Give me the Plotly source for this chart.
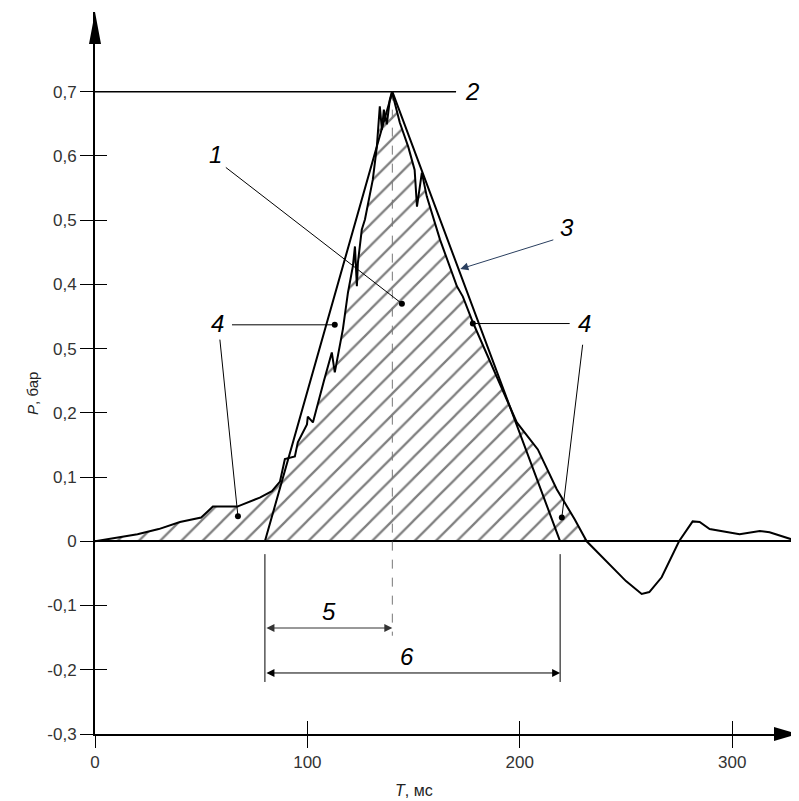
import plotly.graph_objects as go

t_ms = [0, 20, 30, 40, 50, 55.5, 67, 77.6, 83.3, 87.1, 89.4, 94.1, 95.5, 99.8, 100.2,
        102.6, 107.8, 111.5, 112.9, 116.7, 119.1, 121.4, 122.4, 123.3, 123.8, 125.6,
        127.1, 130.8, 132.7, 133.6, 134.1, 135.1, 136.0, 137.4, 138.8, 139.8, 141.0,
        143.5, 147.5, 150.5, 151.6, 153.9, 156.2, 162.4, 170.4, 173.2, 177.9, 190.6,
        198.6, 208.5, 217.4, 225.9, 231.5, 250, 257.4, 261, 266.8, 275, 281.4, 284.7,
        289.4, 303.5, 313, 317.6, 331]
p_bar = [0, 0.011, 0.019, 0.030, 0.037, 0.054, 0.054, 0.068, 0.078, 0.093, 0.128,
         0.132, 0.154, 0.182, 0.194, 0.185, 0.250, 0.294, 0.263, 0.330, 0.387, 0.428,
         0.459, 0.397, 0.434, 0.485, 0.501, 0.563, 0.614, 0.652, 0.677, 0.641, 0.672,
         0.649, 0.687, 0.700, 0.685, 0.652, 0.614, 0.578, 0.521, 0.574, 0.537, 0.470,
         0.397, 0.381, 0.341, 0.247, 0.185, 0.143, 0.081, 0.034, 0.0, -0.062, -0.082,
         -0.079, -0.056, 0.0, 0.031, 0.030, 0.019, 0.011, 0.016, 0.014, 0.0]

# idealised triangle
tri_t = [80, 140, 219]
tri_p = [0, 0.7, 0]

x_ticks = [0, 100, 200, 300]
y_ticks = [-0.3, -0.2, -0.1, 0, 0.1, 0.2, 0.3, 0.4, 0.5, 0.6, 0.7]
y_labels = ["-0,3", "-0,2", "-0,1", "0", "0,1", "0,2", "0,5", "0,4", "0,5", "0,6", "0,7"]

# callout leaders (label end -> dot end)
leaders = [
    ([61.6, 144.5], [0.582, 0.370]),
    ([64.5, 112.9], [0.337, 0.337]),
    ([58.8, 67.3], [0.314, 0.039]),
    ([223.5, 177.9], [0.339, 0.339]),
    ([229.6, 219.8], [0.306, 0.037]),
]
labels = [("1", 56.5, 0.602), ("2", 177.4, 0.70), ("3", 222.1, 0.488), ("4", 57.9, 0.339),
          ("4", 230.6, 0.339), ("5", 110, -0.109), ("6", 147, -0.179)]

fnt = "Liberation Sans, Arial, sans-serif"
fig = go.Figure()

# hatched positive area
pos_t = [t for t in t_ms if t <= 231.5]
pos_p = p_bar[:len(pos_t)]
fig.add_trace(go.Scatter(x=pos_t, y=pos_p, mode="lines", line=dict(width=0),
                         fill="tozeroy", fillcolor="rgba(0,0,0,0)",
                         fillpattern=dict(shape="/", size=15, solidity=0.15,
                                          fgcolor="#000", bgcolor="rgba(0,0,0,0)")))

# reference line at 0.7 (2)
fig.add_trace(go.Scatter(x=[0, 170], y=[0.7, 0.7], mode="lines",
                         line=dict(color="black", width=1.5)))
# dashed peak time line
fig.add_trace(go.Scatter(x=[140, 140], y=[0.7, -0.147], mode="lines",
                         line=dict(color="#777", width=1, dash="dash")))
# dimension verticals
for tx in [tri_t[0], tri_t[2]]:
    fig.add_trace(go.Scatter(x=[tx, tx], y=[-0.02, -0.219], mode="lines",
                             line=dict(color="black", width=1)))

fig.add_trace(go.Scatter(x=tri_t, y=tri_p, mode="lines", line=dict(color="black", width=2)))
fig.add_trace(go.Scatter(x=t_ms, y=p_bar, mode="lines", line=dict(color="black", width=2)))

for lx, ly in leaders:
    fig.add_trace(go.Scatter(x=lx, y=ly, mode="lines", line=dict(color="black", width=1)))
fig.add_trace(go.Scatter(x=[l[0][1] for l in leaders], y=[l[1][1] for l in leaders],
                         mode="markers", marker=dict(color="black", size=6)))

# dummy trace for the second (inner tick) axes
fig.add_trace(go.Scatter(x=[0], y=[0], xaxis="x2", yaxis="y2", mode="markers",
                         marker=dict(opacity=0), hoverinfo="skip"))

for txt, x, y in labels:
    fig.add_annotation(x=x, y=y, text="<i>%s</i>" % txt, showarrow=False,
                       font=dict(family=fnt, size=24, color="black"))

# arrow of label 3
fig.add_annotation(x=172, y=0.424, ax=216.5, ay=0.47, axref="x", ayref="y", text="",
                   showarrow=True, arrowhead=2, arrowsize=1.6, arrowwidth=1)
# dimension 5 and 6
fig.add_annotation(x=140, y=-0.135, ax=80, ay=-0.135, axref="x", ayref="y", text="",
                   showarrow=True, arrowhead=2, startarrowhead=2, arrowside="end+start",
                   arrowsize=1.6, startarrowsize=1.6, arrowwidth=1, arrowcolor="#333")
fig.add_annotation(x=219, y=-0.205, ax=80, ay=-0.205, axref="x", ayref="y", text="",
                   showarrow=True, arrowhead=2, startarrowhead=2, arrowside="end+start",
                   arrowsize=1.6, startarrowsize=1.6, arrowwidth=1, arrowcolor="black")

# axis titles
fig.add_annotation(xref="paper", x=-0.104, y=0.23, text="<i>P</i>, бар", textangle=-90,
                   showarrow=False, font=dict(family=fnt, size=15, color="#222"))
fig.add_annotation(x=150, yref="paper", y=-0.093, text="<i>T</i>, мс",
                   showarrow=False, font=dict(family=fnt, size=16, color="#222"))

# axis arrow heads
fig.add_shape(type="path", xref="paper", yref="paper", xsizemode="pixel", ysizemode="pixel",
              xanchor=0, yanchor=1, path="M0,0 L-6,-32 L6,-32 Z",
              fillcolor="black", line=dict(width=0))
fig.add_shape(type="path", xref="paper", yref="paper", xsizemode="pixel", ysizemode="pixel",
              xanchor=1, yanchor=0, path="M0,0 L-24,7 L-24,-7 Z",
              fillcolor="black", line=dict(width=0))

# page body keeps an 8px margin, so the figure is 8px smaller
fig.update_layout(
    width=791, height=793, showlegend=False,
    paper_bgcolor="white", plot_bgcolor="white",
    margin=dict(l=87, r=1, t=4, b=67),
    font=dict(family=fnt, size=17, color="#333"),
    xaxis=dict(range=[0, 331], tickvals=x_ticks, ticks="outside", ticklen=12, tickwidth=1.2,
               tickcolor="black", showline=True, linewidth=2, linecolor="black",
               showgrid=False, zeroline=False),
    yaxis=dict(range=[-0.3, 0.824], tickvals=y_ticks, ticktext=y_labels, ticks="outside",
               ticklen=13, tickwidth=1.2, tickcolor="black", showline=True, linewidth=2,
               linecolor="black", showgrid=False, zeroline=True, zerolinewidth=2,
               zerolinecolor="black"),
    xaxis2=dict(overlaying="x", matches="x", anchor="y2", tickvals=x_ticks[1:], ticks="inside",
                ticklen=13, tickwidth=1.2, tickcolor="black", showticklabels=False,
                showgrid=False, zeroline=False, showline=False),
    yaxis2=dict(overlaying="y", matches="y", anchor="x2", side="left",
                tickvals=[v for v in y_ticks if v != 0], ticks="inside", ticklen=12,
                tickwidth=1.2, tickcolor="black", showticklabels=False,
                showgrid=False, zeroline=False, showline=False),
)

fig.write_html("out.html")
